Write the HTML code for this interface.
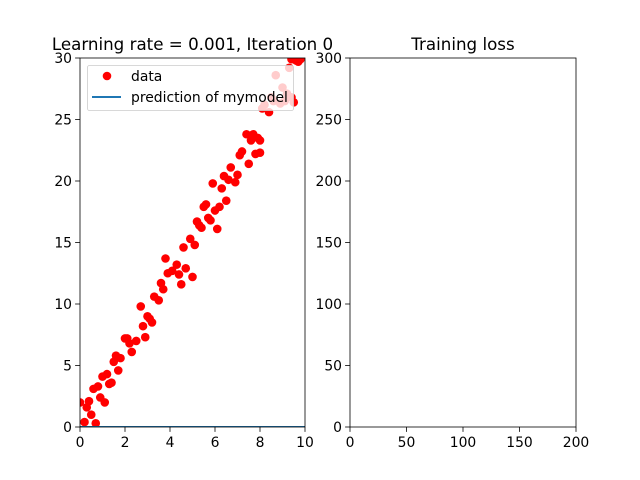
<!DOCTYPE html>
<html><head><meta charset="utf-8"><style>
body{margin:0;background:#fff}
svg{display:block;font-family:"DejaVu Sans","Liberation Sans",sans-serif}
</style></head><body>
<svg id="fig" width="640" height="480" viewBox="0 0 640 480"></svg>
<script>
const xs=[0,0.2,0.3,0.4,0.5,0.6,0.7,0.8,0.9,1.0,1.1,1.2,1.3,1.4,1.5,1.6,1.7,1.8,2.0,2.1,2.2,2.3,2.5,2.7,2.8,2.9,3.0,3.1,3.2,3.3,3.5,3.6,3.7,3.8,3.9,4.1,4.3,4.4,4.5,4.6,4.7,4.9,5.0,5.1,5.2,5.3,5.4,5.5,5.6,5.7,5.8,5.9,6.0,6.1,6.2,6.3,6.4,6.5,6.6,6.7,6.9,7.0,7.1,7.2,7.4,7.5,7.6,7.7,7.8,7.9,8.0,8.0,8.1,8.2,8.4,8.5,8.6,8.7,8.9,9.0,9.1,9.2,9.3,9.4,9.4,9.5,9.6,9.7,9.8];
const ys=[2.0,0.4,1.6,2.1,1.0,3.1,0.3,3.3,2.4,4.1,2.0,4.3,3.5,3.6,5.3,5.8,4.6,5.6,7.2,7.2,6.8,6.1,7.0,9.8,8.2,7.3,9.0,8.8,8.5,10.6,10.3,11.7,11.2,13.7,12.5,12.7,13.2,12.4,11.6,14.6,12.9,15.3,12.2,14.8,16.7,16.4,16.2,17.9,18.1,17.0,16.8,19.8,17.6,16.1,17.9,19.4,20.4,18.4,20.1,21.1,19.9,20.5,22.1,22.4,23.8,21.4,23.3,23.8,22.2,23.5,22.3,23.3,25.9,26.2,25.6,26.8,26.5,28.6,26.3,27.6,26.5,27.1,29.2,26.8,29.9,26.4,29.8,29.7,29.9];
const predX=[0,10];
const predY=[0,0];
const lossIters=[];
const lossVals=[];
const xTicksL=[0,2,4,6,8,10];
const yTicksL=[0,5,10,15,20,25,30];
const xTicksR=[0,50,100,150,200];
const yTicksR=[0,50,100,150,200,250,300];

const NS="http://www.w3.org/2000/svg";
const svg=document.getElementById('fig');
function mk(t,a,p){const e=document.createElementNS(NS,t);for(const k in a)e.setAttribute(k,a[k]);(p||svg).appendChild(e);return e;}
const L={x0:80,x1:305,y0:427,y1:58,xmin:0,xmax:10,ymin:0,ymax:30};
const R={x0:350,x1:576,y0:427,y1:58,xmin:0,xmax:200,ymin:0,ymax:300};
function sx(a,v){return a.x0+(v-a.xmin)/(a.xmax-a.xmin)*(a.x1-a.x0);}
function sy(a,v){return a.y0-(v-a.ymin)/(a.ymax-a.ymin)*(a.y0-a.y1);}

function axes(a,xt,yt,title,name){
  const g=mk('g',{});
  
  
  xt.forEach(v=>{const x=sx(a,v);mk('line',{x1:x,x2:x,y1:a.y0,y2:a.y0+4.9,stroke:'#000','stroke-width':0.8},g);
    const t=mk('text',{x:x,y:a.y0+20,'font-size':13.9,'text-anchor':'middle'},g);t.textContent=v;
    });
  yt.forEach(v=>{const y=sy(a,v);mk('line',{x1:a.x0-4.9,x2:a.x0,y1:y,y2:y,stroke:'#000','stroke-width':0.8},g);
    const t=mk('text',{x:a.x0-8,y:y+5,'font-size':13.9,'text-anchor':'end'},g);t.textContent=v;
    });
  const tt=mk('text',{x:(a.x0+a.x1)/2,y:a.y1-8,'font-size':16.7,'text-anchor':'middle'},g);tt.textContent=title;
  
  return g;
}
const gl=axes(L,xTicksL,yTicksL,'Learning rate = 0.001, Iteration 0','data-axes');
const clip=mk('clipPath',{id:'cl'});mk('rect',{x:L.x0,y:L.y1,width:L.x1-L.x0,height:L.y0-L.y1},clip);
const pts=mk('g',{'clip-path':'url(#cl)'});

xs.forEach((v,i)=>{const c=mk('circle',{cx:sx(L,v),cy:sy(L,ys[i]),r:4.3,fill:'#ff0000'},pts);
  });
const pl=mk('polyline',{points:predX.map((v,i)=>sx(L,v)+','+sy(L,predY[i])).join(' '),fill:'none',stroke:'#1f77b4','stroke-width':2,'clip-path':'url(#cl)'});

mk('rect',{x:L.x0,y:L.y1,width:L.x1-L.x0,height:L.y0-L.y1,fill:'none',stroke:'#000','stroke-width':0.8});
const lg=mk('g',{});

mk('rect',{x:87.5,y:65.5,width:206,height:45,rx:2,fill:'#fff','fill-opacity':0.8,stroke:'#ccc','stroke-width':0.8},lg);
mk('circle',{cx:107,cy:76,r:4.3,fill:'#ff0000'},lg);
const t1=mk('text',{x:131,y:81,'font-size':13.9},lg);t1.textContent='data';
mk('line',{x1:92,x2:121,y1:97,y2:97,stroke:'#1f77b4','stroke-width':2},lg);
const t2=mk('text',{x:131,y:102,'font-size':13.9},lg);t2.textContent='prediction of mymodel';
axes(R,xTicksR,yTicksR,'Training loss','loss-axes');
if(lossIters.length){const lp=mk('polyline',{points:lossIters.map((v,i)=>sx(R,v)+','+sy(R,lossVals[i])).join(' '),fill:'none',stroke:'#1f77b4','stroke-width':1.5});
}
mk('rect',{x:R.x0,y:R.y1,width:R.x1-R.x0,height:R.y0-R.y1,fill:'none',stroke:'#000','stroke-width':0.8});
</script>
</body></html>
